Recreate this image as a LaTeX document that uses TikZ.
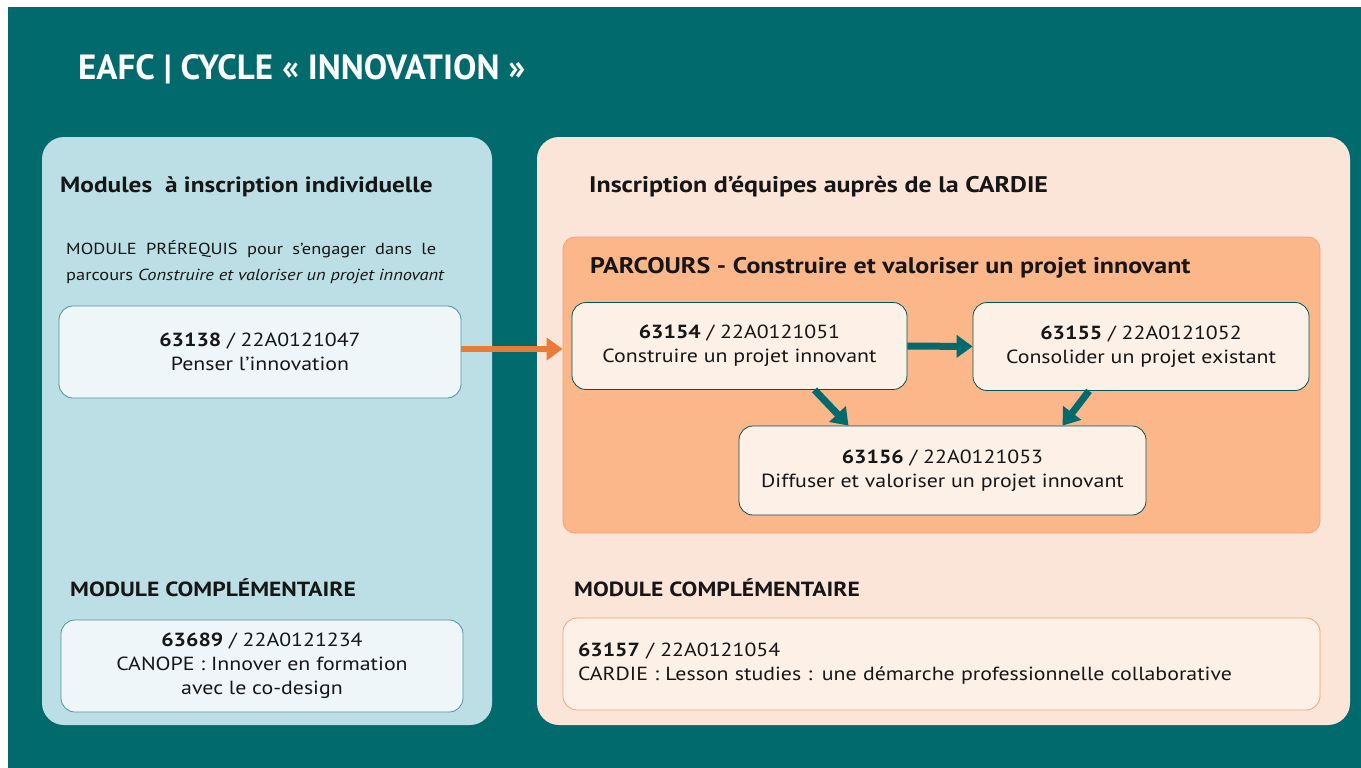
\documentclass[tikz,border=0pt]{standalone}
\usepackage{fontspec}
\setmainfont{PT Sans}[FakeStretch=1.15]
\newfontfamily\titlefont{PT Sans}
\usetikzlibrary{arrows.meta,calc}
\definecolor{teal}{HTML}{006A6C}
\definecolor{lblue}{HTML}{BCDFE6}
\definecolor{lpeach}{HTML}{FBE5D9}
\definecolor{orangep}{HTML}{FBB68A}
\definecolor{orangeb}{HTML}{F2A373}
\definecolor{boxo}{HTML}{FDF0E7}
\definecolor{boxb}{HTML}{EEF6F9}
\definecolor{arrowo}{HTML}{E87B35}
\definecolor{txt}{HTML}{161616}
\tikzset{
  panel/.style={rounded corners=22pt, inner sep=0pt},
  modbox/.style={rounded corners=14pt, inner sep=0pt, draw, line width=0.8pt, align=center, text=txt, font=\fontsize{19}{24}\selectfont},
  heading/.style={anchor=west, inner sep=0pt, text=txt, font=\bfseries\fontsize{22.6}{27}\selectfont},
  tarrow/.style={line width=7pt, draw=teal, -{Triangle[length=16pt,width=22pt]}},
  oarrow/.style={line width=6pt, draw=arrowo, -{Triangle[length=16pt,width=22pt]}},
}
\begin{document}
\begin{tikzpicture}[x=1pt,y=-1pt]
\useasboundingbox (0,0) rectangle (1361,768);
\fill[white] (0,0) rectangle (1361,768);
\fill[teal] (8,7) rectangle (1361,768);
\node[anchor=west, inner sep=0pt, text=white, font=\titlefont\bfseries\fontsize{35}{40}\selectfont] (title) at (78,69) {EAFC | CYCLE « INNOVATION »};
% panels
\node[panel, fill=lblue, minimum width=450pt, minimum height=588pt] (left) at (267,431) {};
\node[panel, fill=lpeach, minimum width=813pt, minimum height=588pt] (right) at (943.5,431) {};
\node[rounded corners=12pt, fill=orangep, draw=orangeb, line width=0.8pt, minimum width=757pt, minimum height=296pt, inner sep=0pt] (orange) at (941.5,385) {};
% headings
\node[heading, font=\bfseries\fontsize{22}{27}\selectfont] (h1) at (60,187) {Modules\ \ à inscription individuelle};
\node[heading] (h2) at (589,187) {Inscription d’équipes auprès de la CARDIE};
\node[heading, font=\bfseries\fontsize{22.6}{26}\selectfont] (h3) at (590,268) {PARCOURS - Construire et valoriser un projet innovant};
\node[heading, font=\bfseries\fontsize{20.5}{24}\selectfont] (h4) at (70,588) {MODULE COMPLÉMENTAIRE};
\node[heading, font=\bfseries\fontsize{20.5}{24}\selectfont] (h5) at (574,588) {MODULE COMPLÉMENTAIRE};
% prerequisite text
\node[anchor=west, inner sep=0pt, align=left, text=txt, font=\fontsize{16}{26}\selectfont] (pre) at (66,262) {\makebox[370pt][s]{MODULE PRÉREQUIS pour s’engager dans le}\\parcours \textit{Construire et valoriser un projet innovant}};
% boxes
\node[modbox, fill=boxb, draw=teal!70, minimum width=402pt, minimum height=92pt] (b1) at (260,352) {\textbf{63138} / 22A0121047\\Penser l’innovation};
\node[modbox, fill=boxo, draw=teal!80!black, minimum width=335pt, minimum height=87pt] (b2) at (739.5,346) {\textbf{63154} / 22A0121051\\Construire un projet innovant};
\node[modbox, fill=boxo, draw=teal!80!black, minimum width=336pt, minimum height=88pt] (b3) at (1141,346.5) {\textbf{63155} / 22A0121052\\Consolider un projet existant};
\node[modbox, fill=boxo, draw=teal!80!black, minimum width=407pt, minimum height=89pt] (b4) at (942.5,470.5) {\textbf{63156} / 22A0121053\\Diffuser et valoriser un projet innovant};
\node[modbox, fill=boxb, draw=teal!70, minimum width=402pt, minimum height=92pt] (b5) at (262,666) {\textbf{63689} / 22A0121234\\CANOPE : Innover en formation\\avec le co-design};
\node[modbox, fill=boxo, draw=orangeb, minimum width=757pt, minimum height=92pt, align=left, text width=727pt] (b6) at (941.5,664) {\textbf{63157} / 22A0121054\\CARDIE : Lesson studies : une démarche professionnelle collaborative};
% arrows
\draw[oarrow] ($(b1.east)+(0,-3)$) -- ($(orange.west |- b1.east)+(0,-3)$);
\draw[tarrow] (b2.east) -- (b3.west);
\draw[tarrow] ($(b2.south)+(75,0)$) -- ($(b4.north)+(-94,0)$);
\draw[tarrow] ($(b3.south)+(-52,0)$) -- ($(b4.north)+(120,0)$);
\end{tikzpicture}
\end{document}
